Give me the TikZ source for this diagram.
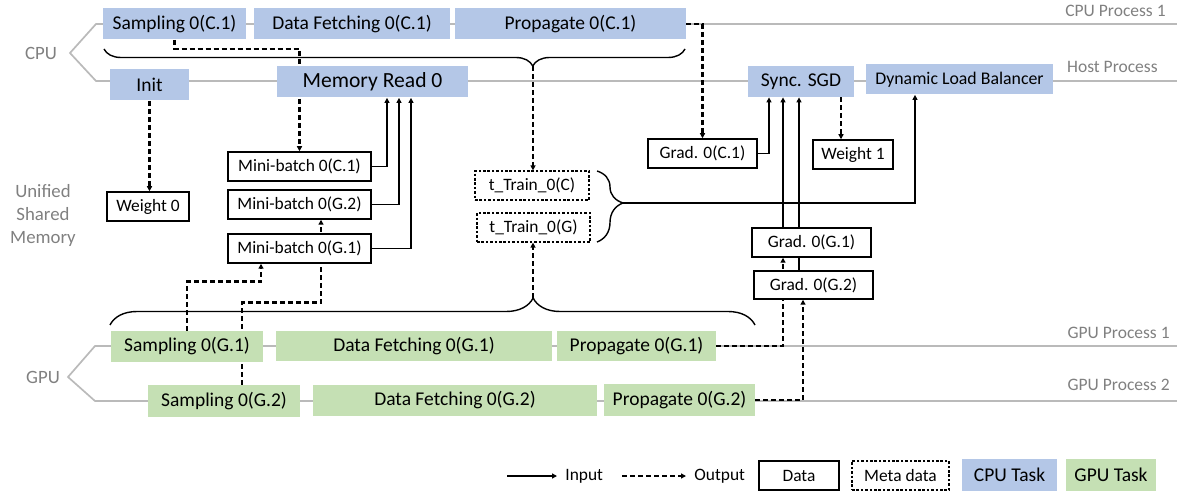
\documentclass[tikz,border=0pt]{standalone}
\usepackage{fontspec}
\setmainfont{Carlito}
\usetikzlibrary{arrows.meta,calc,backgrounds,decorations.pathreplacing}

\definecolor{cpublue}{RGB}{180,199,231}
\definecolor{gpugreen}{RGB}{197,224,180}

\tikzset{
  cputask/.style={fill=cpublue, inner sep=0pt, minimum height=15.5pt, font=\fontsize{9.75}{11}\selectfont},
  gputask/.style={fill=gpugreen, inner sep=0pt, minimum height=15.5pt, font=\fontsize{9.75}{11}\selectfont},
  databox/.style={draw, fill=white, line width=0.75pt, inner sep=0pt, minimum height=14.5pt, font=\fontsize{8.7}{10}\selectfont},
  metabox/.style={databox, line width=0.6pt, dash pattern=on 1.3pt off 0.9pt},
  side/.style={text=black!50, align=center, font=\fontsize{9.4}{11.5}\selectfont},
  proc/.style={text=black!50, inner sep=0pt, font=\fontsize{8.75}{10}\selectfont},
  procline/.style={black!27, line width=0.85pt},
  input/.style={line width=0.7pt, -{Triangle[length=2.5pt,width=2.5pt]}},
  output/.style={line width=1.1pt, dash pattern=on 2.5pt off 1.5pt, -{Triangle[length=2.5pt,width=2.5pt]}},
  bracket/.style={line width=0.7pt, decorate}
}

\begin{document}
\begin{tikzpicture}[x=0.5pt, y=-0.5pt] % one unit is one pixel of the sketch
  \useasboundingbox (0,0) rectangle (1177,496);

  % CPU tasks
  \node[cputask, minimum width=71.5pt] (samc1) at (174.5,24) {Sampling 0(C.1)};
  \node[cputask, minimum width=98pt] (fetc1) at (352,24) {Data Fetching 0(C.1)};
  \node[cputask, minimum width=115.5pt] (propc1) at (570.5,24) {Propagate 0(C.1)};
  \node[cputask, minimum width=39.5pt] (init) at (149.5,85) {Init};
  \node[cputask, minimum width=95.5pt, font=\fontsize{10.8}{13}\selectfont] (memread) at (372.5,82) {Memory Read 0};
  \node[cputask, minimum width=53pt] (sgd) at (801,81.5) {Sync. SGD};
  \node[cputask, minimum width=93.5pt, minimum height=15pt, font=\fontsize{8.9}{10}\selectfont] (dlb) at (959.5,79.5) {Dynamic Load Balancer};

  % data in the unified shared memory
  \node[databox, minimum width=41pt] (weight0) at (148,206.5) {Weight 0};
  \node[databox, minimum width=71.5pt] (mbc1) at (299.5,166.5) {Mini-batch 0(C.1)};
  \node[databox, minimum width=71.5pt] (mbg2) at (299.5,204.5) {Mini-batch 0(G.2)};
  \node[databox, minimum width=71.5pt] (mbg1) at (299.5,248.5) {Mini-batch 0(G.1)};
  \node[metabox, minimum width=57pt] (trainc) at (532,185.5) {t\_Train\_0(C)};
  \node[metabox, minimum width=56.5pt] (traing) at (533.5,227.5) {t\_Train\_0(G)};
  \node[databox, minimum width=54.5pt] (gradc1) at (702.5,153.5) {Grad. 0(C.1)};
  \node[databox, minimum width=40pt] (weight1) at (853,154.5) {Weight 1};
  \node[databox, minimum width=59.5pt] (gradg1) at (811.5,242.5) {Grad. 0(G.1)};
  \node[databox, minimum width=59.5pt, minimum height=14pt] (gradg2) at (813.5,285) {Grad. 0(G.2)};

  % GPU tasks
  \node[gputask, minimum width=76pt] (samg1) at (187,346.5) {Sampling 0(G.1)};
  \node[gputask, minimum width=138pt, minimum height=15pt] (fetg1) at (414,346) {Data Fetching 0(G.1)};
  \node[gputask, minimum width=79.5pt, minimum height=15pt] (propg1) at (636.5,346) {Propagate 0(G.1)};
  \node[gputask, minimum width=76pt, minimum height=16pt] (samg2) at (224,401) {Sampling 0(G.2)};
  \node[gputask, minimum width=142pt] (fetg2) at (455,400.5) {Data Fetching 0(G.2)};
  \node[gputask, minimum width=75.5pt, minimum height=16pt] (propg2) at (679.5,400) {Propagate 0(G.2)};

  % side labels
  \node[side] (cpu) at (41,53) {CPU};
  \node[side] (usm) at (43,215) {Unified\\Shared\\Memory};
  \node[side] (gpu) at (43,377) {GPU};
  \node[proc, anchor=east] (cpup1) at (1166,11) {CPU Process 1};
  \node[proc, anchor=east] (hostp) at (1158,67) {Host Process};
  \node[proc, anchor=east] (gpup1) at (1170,333) {GPU Process 1};
  \node[proc, anchor=east] (gpup2) at (1170,385) {GPU Process 2};

  % braces
  \draw[bracket, decoration={brace, mirror, amplitude=8.5pt, aspect=0.738}] (104,49) -- (685,49);
  \draw[bracket, decoration={brace, amplitude=13.5pt, aspect=0.656}] (110,325) -- (755,325);
  \draw[bracket, decoration={brace, amplitude=13pt, aspect=0.45}] (597,171) -- (597,242);
  \coordinate (cputip) at (533,66);
  \coordinate (gputip) at (533,298);
  \coordinate (traintip) at (623,203);

  \begin{scope}[on background layer]
    % process lines
    \draw[procline] (1177,24) -- (96,24) -- (70,53) -- (96,81) -- (1177,81);
    \draw[procline] (1177,346) -- (95,346) -- (68,377) -- (95,401) -- (1177,401);

    % outputs
    \draw[output] (samc1.south) -- ++(0,9) -| (mbc1.north);
    \draw[output] (propc1.east) -| (gradc1.north);
    \draw[output] (init.south) -- (weight0.north -| init.south);
    \draw[output] (cputip) -- (cputip |- trainc.north);
    \draw[output] (gputip) -- (gputip |- traing.south);
    \draw[output] ($(sgd.south)+(40,0)$) -- ($(weight1.north)+(-12,0)$);
    \draw[output] (samg1.north) -- ++(0,-49) -| ($(mbg1.south)+(-38.5,0)$);
    \draw[output] ($(samg2.north)+(18,0)$) -- ++(0,-82) -| ($(mbg2.south)+(21.5,0)$);
    \draw[output] (propg1.east) -| ($(gradg1.south)+(-28.5,0)$);
    \draw[output] (propg2.east) -| ($(gradg2.south)+(-10.5,0)$);

    % inputs
    \draw[input] (mbc1.east) -| ($(memread.south)+(14.5,0)$);
    \draw[input] (mbg2.east) -| ($(memread.south)+(26.5,0)$);
    \draw[input] (mbg1.east) -| ($(memread.south)+(38.5,0)$);
    \draw[input] (gradc1.east) -| ($(sgd.south)+(-32,0)$);
    \draw[input] ($(gradg1.north)+(-28.5,0)$) -- ($(sgd.south)+(-18,0)$);
    \draw[input] ($(gradg2.north)+(-14.5,0)$) -- ($(sgd.south)+(-2,0)$);
    \draw[input] (traintip) -| ($(dlb.south)+(-44.5,0)$);
  \end{scope}

  % legend
  \coordinate (inleg) at (507,476);
  \node[anchor=west, inner sep=4pt, font=\fontsize{8.7}{10}\selectfont] (intext) at (557,476) {Input};
  \draw[input] (inleg) -- (intext.west);
  \coordinate (outleg) at (622,476);
  \node[anchor=west, inner sep=4pt, font=\fontsize{8.7}{10}\selectfont] (outtext) at (686,476) {Output};
  \draw[output] (outleg) -- (outtext.west);
  \node[databox, minimum width=40pt] (legdata) at (799,475.5) {Data};
  \node[metabox, minimum width=48.5pt] (legmeta) at (900.5,475.5) {Meta data};
  \node[cputask, minimum width=47.5pt, minimum height=16pt] (legcpu) at (1009.5,475) {CPU Task};
  \node[gputask, minimum width=45pt, minimum height=16pt] (leggpu) at (1111,475) {GPU Task};
\end{tikzpicture}
\end{document}
